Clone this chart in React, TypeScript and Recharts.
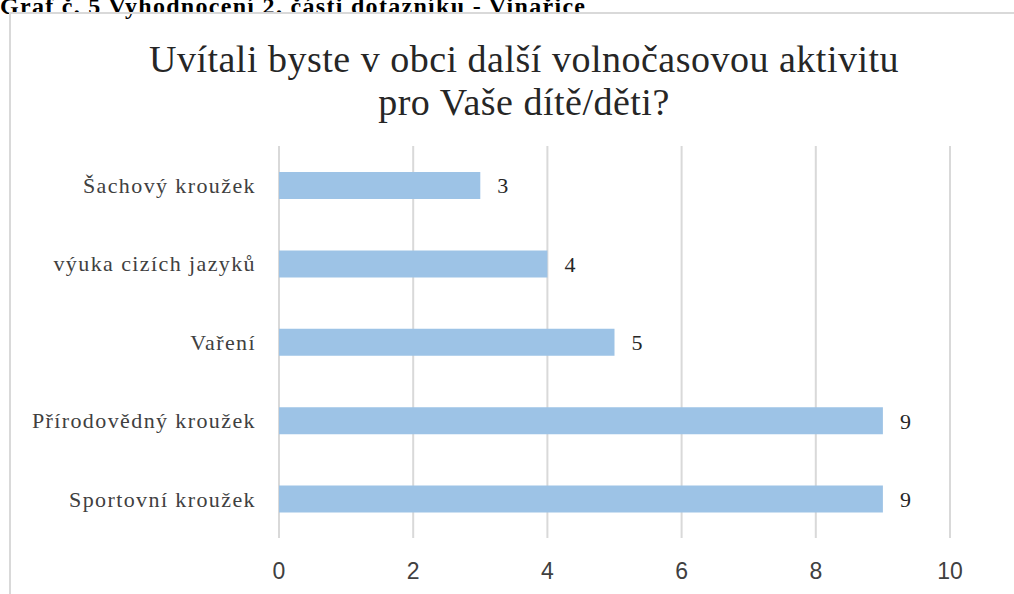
import React from "react";
import { Bar, BarChart, CartesianGrid, LabelList, XAxis, YAxis } from "recharts";

const categories = [
  "Šachový kroužek",
  "výuka cizích jazyků",
  "Vaření",
  "Přírodovědný kroužek",
  "Sportovní kroužek",
];
const counts = [3, 4, 5, 9, 9];
const xTicks = [0, 2, 4, 6, 8, 10];

const chartData = categories.map((name, i) => ({ name, value: counts[i] }));

const serif = "'Liberation Serif', 'Times New Roman', serif";
const narrow = "'Liberation Sans Narrow', 'Liberation Sans', Arial, sans-serif";

export default function App() {
  return (
    <div
      style={{
        position: "fixed",
        left: 0,
        top: 0,
        width: 1014,
        height: 594,
        overflow: "hidden",
        background: "#fff",
      }}
    >
      {/* caption from the document, cut at the top */}
      <div
        style={{
          position: "absolute",
          left: 0,
          top: -6,
          fontFamily: serif,
          fontWeight: "bold",
          fontSize: 24,
          lineHeight: "24px",
          letterSpacing: 1.3,
          color: "#000",
          whiteSpace: "nowrap",
        }}
      >
        Graf č. 5 Vyhodnocení 2. části dotazníku - Vinařice
      </div>
      {/* chart frame */}
      <div
        style={{
          position: "absolute",
          left: 9,
          top: 12,
          width: 1100,
          height: 700,
          border: "2px solid #d9d9d9",
        }}
      />
      <div
        style={{
          position: "absolute",
          left: 0,
          top: 38,
          width: 1048,
          textAlign: "center",
          fontFamily: serif,
          fontSize: 38,
          lineHeight: "43px",
          letterSpacing: 0.5,
          color: "#262626",
        }}
      >
        Uvítali byste v obci další volnočasovou aktivitu
        <br />
        pro Vaše dítě/děti?
      </div>
      <div style={{ position: "absolute", left: 0, top: 0 }}>
        <BarChart
          width={1014}
          height={594}
          data={chartData}
          layout="vertical"
          margin={{ top: 146, right: 64, bottom: 0, left: 0 }}
        >
          <CartesianGrid horizontal={false} stroke="#d9d9d9" strokeWidth={2} />
          <XAxis
            type="number"
            domain={[0, 10]}
            ticks={xTicks}
            axisLine={false}
            tickLine={false}
            tickSize={0}
            tickMargin={25}
            height={56}
            tick={{ fontFamily: narrow, fontSize: 23, fill: "#404040" }}
          />
          <YAxis
            type="category"
            dataKey="name"
            width={279}
            axisLine={false}
            tickLine={false}
            tickSize={0}
            tickMargin={23}
            tick={{ fontFamily: serif, fontSize: 22, letterSpacing: 1.4, fill: "#404040" }}
          />
          <Bar dataKey="value" fill="#9dc3e6" barSize={27} isAnimationActive={false}>
            <LabelList
              dataKey="value"
              position="right"
              offset={17}
              style={{ fontFamily: serif, fontSize: 22, fill: "#262626" }}
            />
          </Bar>
        </BarChart>
      </div>
    </div>
  );
}
